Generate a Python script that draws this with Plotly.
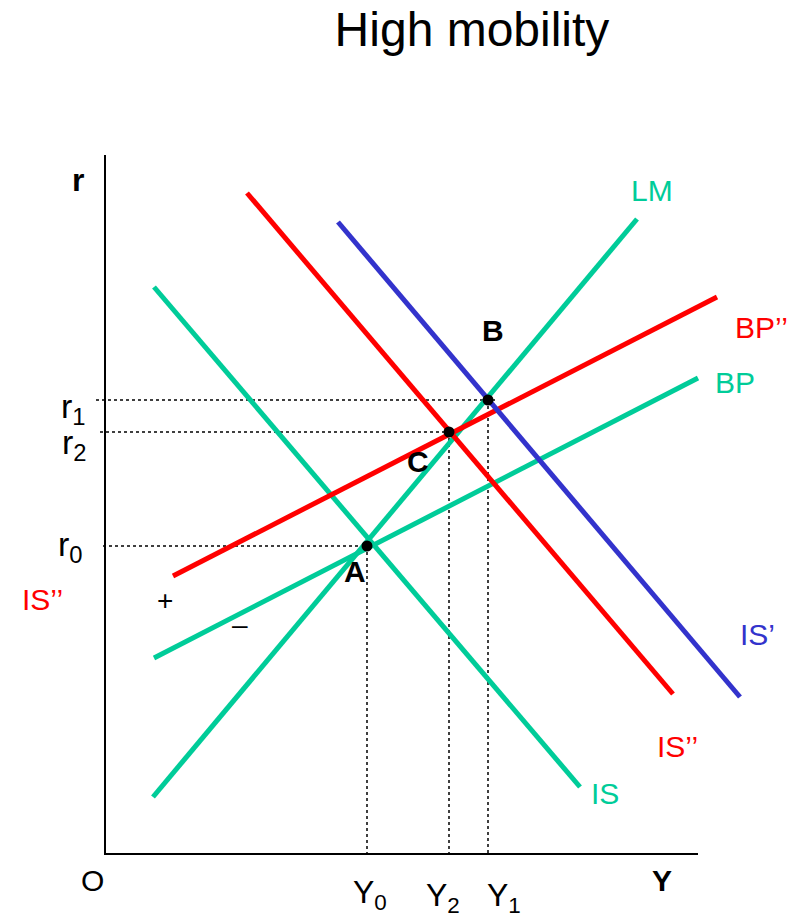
import plotly.graph_objects as go

# chart units: Y to the right, r upward, origin at the corner of the axes
# each curve = two end points
LM_Y, LM_R = [48, 532], [57, 635]
IS_Y, IS_R = [49, 475], [567, 67]
BP_Y, BP_R = [49, 593], [196, 476]
BP2_Y, BP2_R = [68, 612], [278, 557]
IS2_Y, IS2_R = [142, 568], [661, 160]
IS1_Y, IS1_R = [233, 635], [632, 157]

# equilibrium points A, C, B
PT_NAMES = ["A", "C", "B"]
PT_Y = [262, 344, 383]
PT_R = [308, 422, 454]
R_TICKS = ["r<sub>0</sub>", "r<sub>2</sub>", "r<sub>1</sub>"]
Y_TICKS = ["Y<sub>0</sub>", "Y<sub>2</sub>", "Y<sub>1</sub>"]

# axis lengths
Y_MAX, R_MAX = 593, 699

TEAL, RED, BLUE = "#00CC99", "#FF0000", "#3333CC"
FONT = "Liberation Sans, Arial, sans-serif"

# the page body adds 8px, so the figure is 8px smaller each way
W, H = 790, 909

fig = go.Figure()

# axes
fig.add_trace(go.Scatter(x=[0, 0, Y_MAX], y=[R_MAX, 0, 0], mode="lines",
                         line=dict(color="black", width=2), hoverinfo="skip"))

# dotted guides from each point to both axes
h_start = [-2, -5, -9]
h_extra = [0, 0, 10]
for i in range(len(PT_NAMES)):
    fig.add_trace(go.Scatter(x=[h_start[i], PT_Y[i] + h_extra[i]], y=[PT_R[i], PT_R[i]],
                             mode="lines", line=dict(color="black", width=1.5, dash="dot"),
                             hoverinfo="skip"))
    fig.add_trace(go.Scatter(x=[PT_Y[i], PT_Y[i]], y=[PT_R[i], 0],
                             mode="lines", line=dict(color="black", width=1.5, dash="dot"),
                             hoverinfo="skip"))

# curves
curves = [
    ("LM", LM_Y, LM_R, TEAL),
    ("IS", IS_Y, IS_R, TEAL),
    ("BP", BP_Y, BP_R, TEAL),
    ("BP''", BP2_Y, BP2_R, RED),
    ("IS''", IS2_Y, IS2_R, RED),
    ("IS'", IS1_Y, IS1_R, BLUE),
]
for name, xs, ys, col in curves:
    fig.add_trace(go.Scatter(x=xs, y=ys, mode="lines", name=name,
                             line=dict(color=col, width=5)))

# points
fig.add_trace(go.Scatter(x=PT_Y, y=PT_R, mode="markers",
                         marker=dict(color="black", size=11), hoverinfo="skip"))

# text labels: (text, x, y, color, size, bold, anchor)
labels = [
    ("LM", 547, 664, TEAL, 30, False, "center"),
    ("BP’’", 685, 527, RED, 30, False, "right"),
    ("BP", 630, 472, TEAL, 30, False, "center"),
    ("IS’", 652, 220, BLUE, 30, False, "center"),
    ("IS’’", 572, 108, RED, 30, False, "center"),
    ("IS", 500, 61, TEAL, 30, False, "center"),
    ("IS’’", -63, 255, RED, 30, False, "center"),
    ("+", 60, 254, "black", 28, False, "center"),
    ("–", 135, 230, "black", 28, False, "center"),
    ("A", 250, 283, "black", 30, True, "center"),
    ("B", 388, 524, "black", 30, True, "center"),
    ("C", 313, 393, "black", 30, True, "center"),
    ("r", -27, 674, "black", 32, True, "center"),
    ("O", -13, -26, "black", 30, False, "center"),
    ("Y", 557, -26, "black", 30, True, "center"),
]
r_pos = [(-35, 308), (-31, 410), (-32, 446)]
y_pos = [(265, -40), (338, -43), (399, -43)]
for t, (x, y) in zip(R_TICKS, r_pos):
    labels.append((t, x, y, "black", 34, False, "center"))
for t, (x, y) in zip(Y_TICKS, y_pos):
    labels.append((t, x, y, "black", 32, False, "center"))

for text, x, y, col, size, bold, anchor in labels:
    fig.add_annotation(x=x, y=y, text=f"<b>{text}</b>" if bold else text,
                       showarrow=False, xanchor=anchor, yanchor="middle",
                       font=dict(family=FONT, size=size, color=col))

fig.update_layout(
    width=W, height=H,
    margin=dict(l=0, r=0, t=0, b=0),
    paper_bgcolor="white", plot_bgcolor="white",
    showlegend=False,
    title=dict(text="High mobility", x=464 / W, xanchor="center",
               y=1 - 21 / H, yanchor="middle",
               font=dict(family=FONT, size=48, color="black")),
)
fig.update_xaxes(range=[-97, -97 + W], visible=False, fixedrange=True)
fig.update_yaxes(range=[846 - H, 846], visible=False, fixedrange=True)

fig.write_html("out.html")
